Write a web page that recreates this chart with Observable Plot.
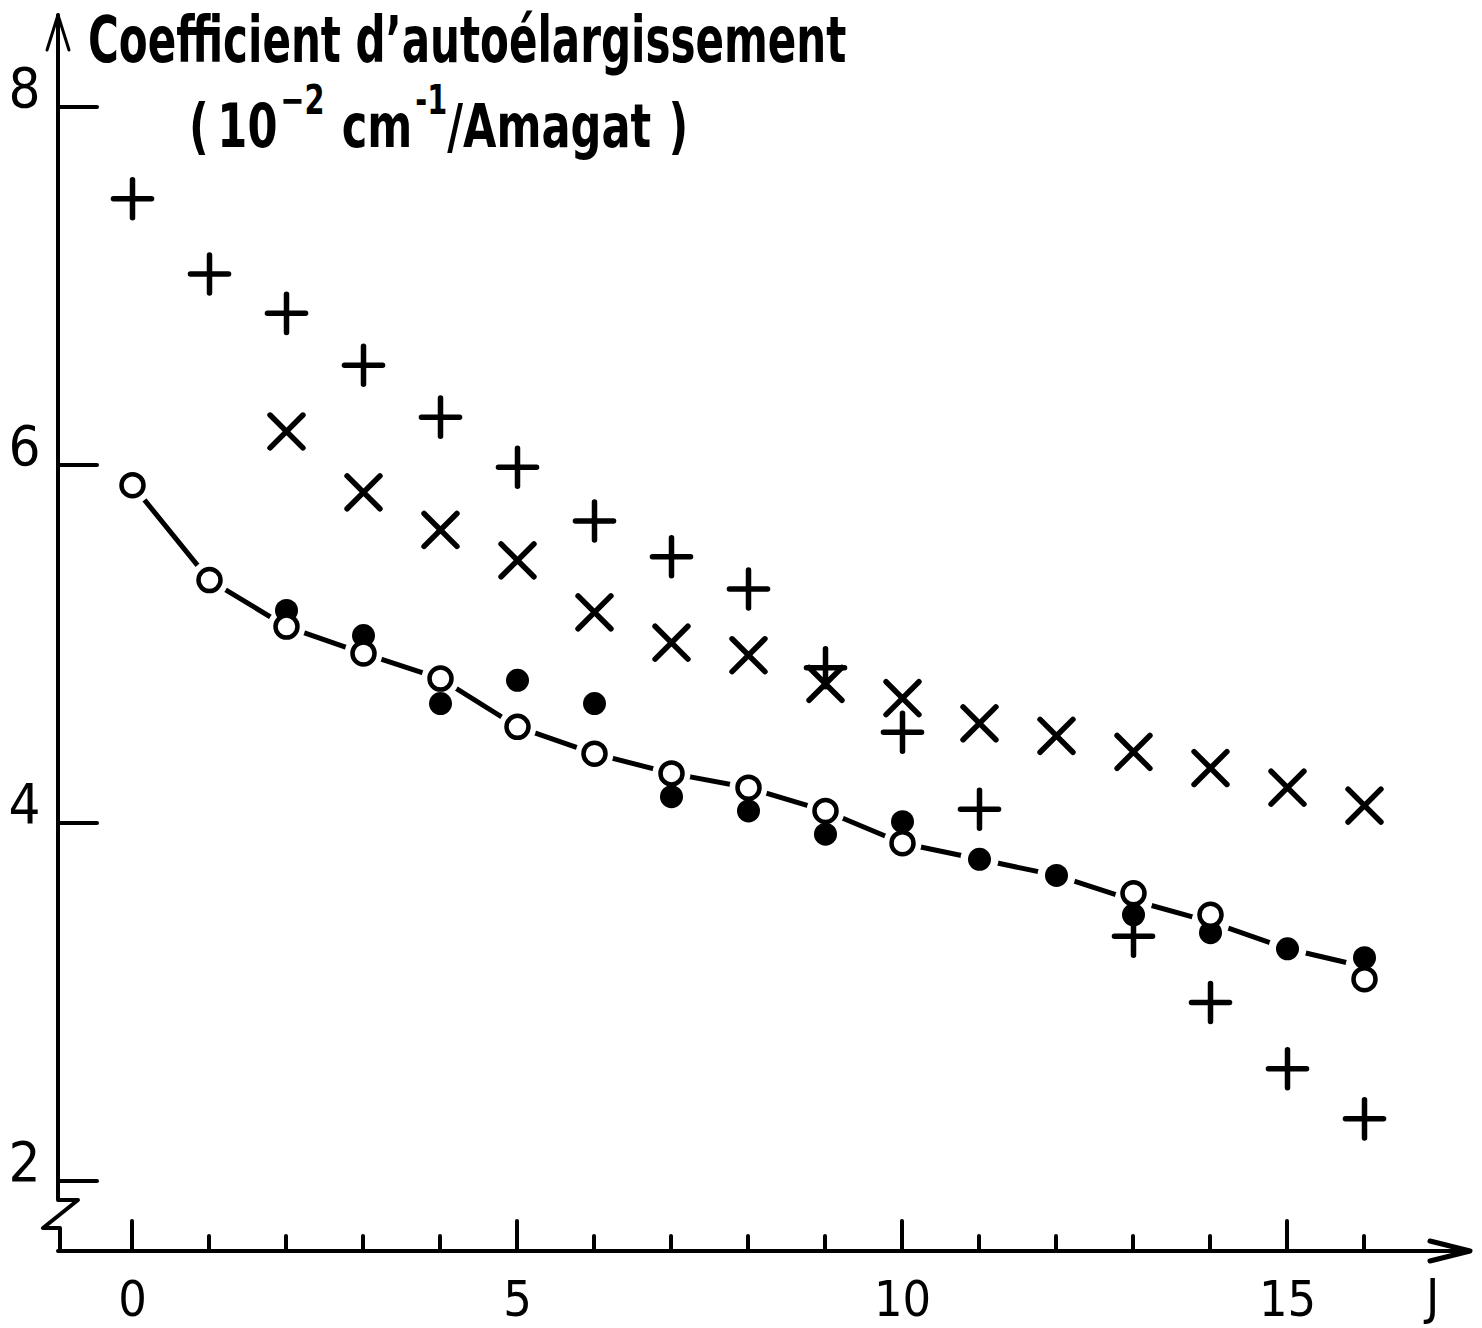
<!DOCTYPE html>
<html>
<head>
<meta charset="utf-8">
<script src="https://cdn.jsdelivr.net/npm/d3@7"></script>
<script src="https://cdn.jsdelivr.net/npm/@observablehq/plot@0.6"></script>
<style>
html, body { margin: 0; padding: 0; background: #fff; }
#wrap { position: relative; width: 1482px; height: 1328px; overflow: hidden; }
.ttl { position: absolute; white-space: nowrap; line-height: 1; color: #000;
  font-family: "Liberation Sans Narrow", "DejaVu Sans Condensed", "Roboto Condensed", sans-serif; font-weight: bold;
  transform-origin: 0 0; }
.sup { position: relative; font-size: 40px; top: -33px; }
</style>
</head>
<body>
<div id="wrap">
  <div class="ttl" id="t1" style="left:88px; top:8px; font-size:64px; transform:scaleX(0.73);">Coefficient d’autoélargissement</div>
  <div class="ttl" id="t2" style="left:189px; top:96px; font-size:60px; transform:scaleX(0.8);">(&#8201;10<span class="sup">&#8202;−2</span>&#8201;&#8201;cm<span class="sup">&#8202;-1</span>/Amagat&#8201;&#8201;)</div>
</div>
<script>
// ---- data ----
const J = [0,1,2,3,4,5,6,7,8,9,10,11,12,13,14,15,16];

const plusJ = [0,1,2,3,4,5,6,7,8,9,10,11,13,14,15,16];
const plusV = [7.49,7.07,6.85,6.56,6.27,5.99,5.69,5.49,5.31,4.87,4.51,4.08,3.37,3.00,2.63,2.35];

const timesJ = [2,3,4,5,6,7,8,9,10,11,12,13,14,15,16];
const timesV = [6.19,5.85,5.64,5.47,5.18,5.01,4.94,4.78,4.70,4.56,4.49,4.40,4.31,4.20,4.10];

const openJ = [0,1,2,3,4,5,6,7,8,9,10,13,14,16];
const openV = [5.89,5.36,5.10,4.95,4.81,4.54,4.39,4.28,4.20,4.07,3.89,3.61,3.49,3.13];

const filledJ = [2,3,4,5,6,7,8,9,10,11,12,13,14,15,16];
const filledV = [5.19,5.05,4.67,4.80,4.67,4.15,4.07,3.94,4.01,3.80,3.71,3.49,3.39,3.30,3.25];

const curveV = [5.89,5.36,5.10,4.95,4.81,4.54,4.39,4.28,4.20,4.07,3.89,3.80,3.71,3.57,3.45,3.30,3.20];

const yTicks = [2,4,6,8];
const xMajor = [0,5,10,15];
const xMinor = J;
const xLabel = "J";

// ---- tables ----
const toRows = (js, vs) => js.map((j, i) => ({J: j, v: vs[i]}));
const plus = toRows(plusJ, plusV);
const times = toRows(timesJ, timesV);
const open = toRows(openJ, openV);
const filled = toRows(filledJ, filledV);
const curve = toRows(J, curveV);

const numFont = '"Liberation Sans Narrow", "DejaVu Sans Condensed", sans-serif';

function axes(index, scales, values, dimensions) {
  const {width, height, marginLeft, marginBottom, marginTop, marginRight} = dimensions;
  const x0 = marginLeft, yb = height - marginBottom, xr = width - marginRight;
  const g = d3.create("svg:g")
    .attr("fill", "none").attr("stroke", "black").attr("stroke-width", 4)
    .attr("stroke-linecap", "round").attr("stroke-linejoin", "round");
  const yBreak = scales.y(yTicks[0]) + 19;
  g.append("path").attr("d", `M${x0},${marginTop}V${yBreak}h20L${x0 - 15},${yBreak + 28}h17V${yb}`);
  g.append("path").attr("stroke-width", 3)
    .attr("d", `M${x0 - 11},${marginTop + 35}L${x0},${marginTop}L${x0 + 11},${marginTop + 35}`);
  g.append("path").attr("d", `M${x0},${yb}H${xr}`);
  g.append("path").attr("stroke-width", 5)
    .attr("d", `M${xr - 40},${yb - 10}L${xr},${yb}L${xr - 40},${yb + 10}`);
  for (const v of yTicks) g.append("path").attr("d", `M${x0},${scales.y(v)}h39`);
  for (const j of xMinor) {
    g.append("path").attr("d", `M${scales.x(j)},${yb}v${xMajor.includes(j) ? -30 : -15}`);
  }
  return g.node();
}

const chart = Plot.plot({
  width: 1482,
  height: 1328,
  marginLeft: 58,
  marginRight: 12,
  marginTop: 15,
  marginBottom: 77,
  x: {domain: [0, 15], range: [132, 1287]},
  y: {domain: [2, 8], range: [1181, 107]},
  style: {fontFamily: numFont, color: "black", background: "transparent", overflow: "visible"},
  marks: [
    axes,
    Plot.axisY(yTicks, {tickSize: 0, tickPadding: 18, fontSize: 56, dy: -18, label: null, tickFormat: (d) => String(d)}),
    Plot.axisX(xMajor, {tickSize: 0, tickPadding: 29, fontSize: 50, label: null, tickFormat: (d) => String(d)}),
    Plot.text([xLabel], {frameAnchor: "bottom-right", dx: -38, dy: 27, lineAnchor: "top", textAnchor: "middle", fontSize: 50}),
    Plot.line(curve, {x: "J", y: "v", stroke: "black", strokeWidth: 5}),
    Plot.dot(curve, {x: "J", y: "v", r: 19, fill: "white"}),
    Plot.dot(times, {x: "J", y: "v", symbol: "times", r: 15, stroke: "black", strokeWidth: 5.5, strokeLinecap: "round"}),
    Plot.dot(plus, {x: "J", y: "v", symbol: "plus", r: 12.3, stroke: "black", strokeWidth: 5.5, strokeLinecap: "round"}),
    Plot.dot(filled, {x: "J", y: "v", r: 11.5, fill: "black"}),
    Plot.dot(open, {x: "J", y: "v", r: 11, fill: "white", stroke: "black", strokeWidth: 4.5})
  ]
});
chart.style.position = "absolute";
chart.style.left = "0";
chart.style.top = "0";
document.getElementById("wrap").prepend(chart);
</script>
</body>
</html>
